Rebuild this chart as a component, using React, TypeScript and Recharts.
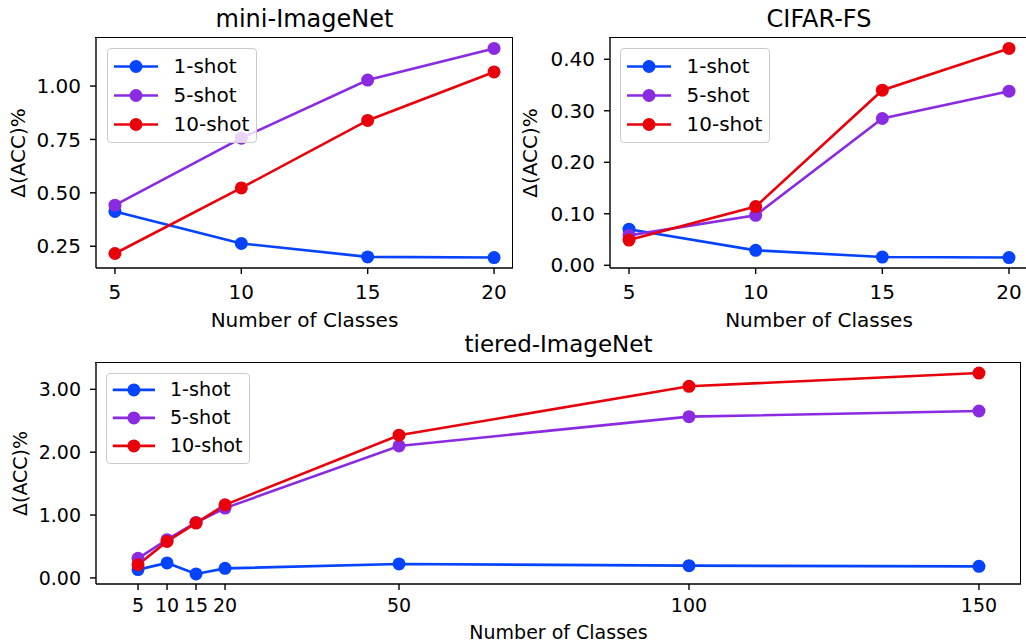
import React from 'react';
import { LineChart, Line, XAxis, YAxis, Legend } from 'recharts';

const FONT = '"DejaVu Sans", sans-serif';

const shots = ['1-shot', '5-shot', '10-shot'];
const colors = ['#0543ff', '#8a2be2', '#e8000b'];

// mini-ImageNet / CIFAR-FS
const smallClasses = [5, 10, 15, 20];
const miniOne = [0.413, 0.263, 0.2, 0.197];
const miniFive = [0.442, 0.756, 1.028, 1.176];
const miniTen = [0.216, 0.523, 0.839, 1.066];

const cifarOne = [0.07, 0.029, 0.016, 0.015];
const cifarFive = [0.058, 0.097, 0.285, 0.338];
const cifarTen = [0.049, 0.114, 0.34, 0.421];

// tiered-ImageNet
const tieredClasses = [5, 10, 15, 20, 50, 100, 150];
const tieredOne = [0.132, 0.238, 0.063, 0.152, 0.222, 0.195, 0.184];
const tieredFive = [0.311, 0.608, 0.882, 1.111, 2.1, 2.565, 2.655];
const tieredTen = [0.211, 0.581, 0.873, 1.163, 2.27, 3.048, 3.259];

const miniYTicks = [0.25, 0.5, 0.75, 1.0];
const cifarYTicks = [0, 0.1, 0.2, 0.3, 0.4];
const tieredYTicks = [0, 1, 2, 3];

const rows = (xs: number[], a: number[], b: number[], c: number[]) =>
  xs.map((x, i) => ({ x, one: a[i], five: b[i], ten: c[i] }));

// matplotlib-like 5% margins
const pad = (vals: number[]): [number, number] => {
  const lo = Math.min(...vals);
  const hi = Math.max(...vals);
  const m = (hi - lo) * 0.05;
  return [lo - m, hi + m];
};

const Y_W = 60;
const X_H = 40;

function LegendBox({ payload, s }: any) {
  const w = 150 * s;
  const h = 95 * s;
  const step = 29 * s;
  const first = 17 * s;
  const items = [...(payload || [])].sort((a: any, b: any) => shots.indexOf(a.value) - shots.indexOf(b.value));
  return (
    <div
      style={{
        position: 'relative',
        boxSizing: 'border-box',
        width: w,
        height: h,
        border: '1.2px solid #cccccc',
        borderRadius: 4,
        background: 'rgba(255,255,255,0.8)',
        fontFamily: FONT,
        fontSize: 20 * s,
        color: '#000',
      }}
    >
      {items.map((p: any, i: number) => (
        <div key={p.value} style={{ position: 'absolute', left: 0, top: first + i * step - step / 2, height: step, width: w }}>
          <svg width={56 * s} height={step} style={{ position: 'absolute', left: 0, top: 0 }}>
            <line x1={6 * s} x2={50 * s} y1={step / 2} y2={step / 2} stroke={p.color} strokeWidth={2.6} />
            <circle cx={28 * s} cy={step / 2} r={6.5} fill={p.color} />
          </svg>
          <span style={{ position: 'absolute', left: 65.5 * s, top: 0, lineHeight: `${step}px`, whiteSpace: 'nowrap' }}>{p.value}</span>
        </div>
      ))}
    </div>
  );
}

function Panel({ data, xTicks, yTicks, width, height, margin, font, tickGap, legendAt, s }: any) {
  const xDom = pad(data.map((d: any) => d.x));
  const yDom = pad(data.flatMap((d: any) => [d.one, d.five, d.ten]));
  const line = { stroke: '#000', strokeWidth: 1.4 };
  const tick = { fill: '#000', fontSize: font, fontFamily: FONT };
  const keys = ['one', 'five', 'ten'];
  // plot box, for the top / right spines
  const bx = margin.left + Y_W;
  const by = margin.top;
  const bw = width - margin.right - bx;
  const bh = height - margin.bottom - X_H - by;
  return (
    <div style={{ position: 'relative', width, height }}>
      <LineChart width={width} height={height} data={data} margin={margin}>
        <XAxis
          dataKey="x"
          type="number"
          domain={xDom}
          ticks={xTicks}
          allowDataOverflow
          interval={0}
          height={X_H}
          tickSize={6}
          tickMargin={tickGap}
          axisLine={line}
          tickLine={line}
          tick={tick}
        />
        <YAxis
          type="number"
          domain={yDom}
          ticks={yTicks}
          allowDataOverflow
          interval={0}
          width={Y_W}
          tickSize={6}
          tickMargin={9}
          axisLine={line}
          tickLine={line}
          tick={tick}
          tickFormatter={(v: number) => v.toFixed(2)}
        />
        {keys.map((k, i) => (
          <Line
            key={k}
            type="linear"
            dataKey={k}
            name={shots[i]}
            stroke={colors[i]}
            strokeWidth={2.6}
            dot={{ r: 6.5, fill: colors[i], stroke: colors[i], strokeWidth: 0 }}
            activeDot={false}
            isAnimationActive={false}
          />
        ))}
        <Legend
          layout="vertical"
          align="center"
          verticalAlign="middle"
          wrapperStyle={{ left: legendAt[0], top: legendAt[1], width: 150 * s, height: 95 * s }}
          content={(props: any) => <LegendBox payload={props.payload} s={s} />}
        />
      </LineChart>
      <div
        style={{
          position: 'absolute',
          left: bx - 0.7,
          top: by - 0.7,
          width: bw,
          height: bh,
          borderTop: '1.4px solid #000',
          borderRight: '1.4px solid #000',
          pointerEvents: 'none',
        }}
      />
    </div>
  );
}

export default function App() {
  const mini = rows(smallClasses, miniOne, miniFive, miniTen);
  const cifar = rows(smallClasses, cifarOne, cifarFive, cifarTen);
  const tiered = rows(tieredClasses, tieredOne, tieredFive, tieredTen);
  const txt = { fontFamily: FONT, fill: '#000' };
  return (
    <div style={{ position: 'absolute', left: 0, top: 0, width: 1026, height: 642, overflow: 'hidden', background: '#fff' }}>
      <div style={{ position: 'absolute', left: 0, top: 0 }}>
        <Panel data={mini} xTicks={smallClasses} yTicks={miniYTicks} width={540} height={340}
          margin={{ top: 38, right: 27, left: 36, bottom: 32 }} font={20} tickGap={10.5} legendAt={[107, 48]} s={1} />
      </div>
      <div style={{ position: 'absolute', left: 520, top: 0 }}>
        <Panel data={cifar} xTicks={smallClasses} yTicks={cifarYTicks} width={520} height={340}
          margin={{ top: 38, right: 12, left: 30, bottom: 32 }} font={20} tickGap={10.5} legendAt={[100, 48]} s={1} />
      </div>
      <div style={{ position: 'absolute', left: 0, top: 330 }}>
        <Panel data={tiered} xTicks={tieredClasses} yTicks={tieredYTicks} width={1026} height={312}
          margin={{ top: 33, right: 5, left: 36, bottom: 18 }} font={19} tickGap={9} legendAt={[106, 43]} s={0.96} />
      </div>
      <svg width={1026} height={642} style={{ position: 'absolute', left: 0, top: 0, pointerEvents: 'none' }}>
        <text x={304.5} y={27} textAnchor="middle" fontSize={24} {...txt}>mini-ImageNet</text>
        <text x={819} y={27} textAnchor="middle" fontSize={24} {...txt}>CIFAR-FS</text>
        <text x={558.5} y={352} textAnchor="middle" fontSize={23} {...txt}>tiered-ImageNet</text>
        <text x={304.5} y={326.5} textAnchor="middle" fontSize={20} {...txt}>Number of Classes</text>
        <text x={819} y={326.5} textAnchor="middle" fontSize={20} {...txt}>Number of Classes</text>
        <text x={558.5} y={639} textAnchor="middle" fontSize={19} {...txt}>Number of Classes</text>
        <text x={25} y={153} textAnchor="middle" fontSize={20} transform="rotate(-90 25 153)" {...txt}>Δ(ACC)%</text>
        <text x={536.5} y={153} textAnchor="middle" fontSize={20} transform="rotate(-90 536.5 153)" {...txt}>Δ(ACC)%</text>
        <text x={26.5} y={473.5} textAnchor="middle" fontSize={19} transform="rotate(-90 26.5 473.5)" {...txt}>Δ(ACC)%</text>
      </svg>
    </div>
  );
}
